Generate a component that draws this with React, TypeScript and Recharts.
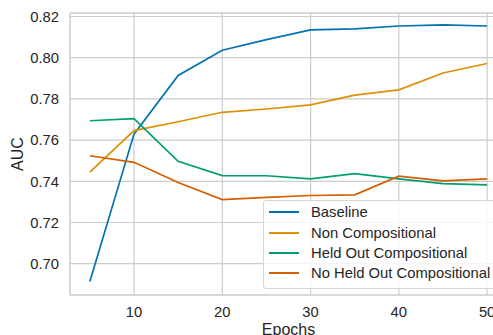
import React from "react";
import {
  LineChart,
  Line,
  XAxis,
  YAxis,
  CartesianGrid,
  Legend,
  ReferenceLine,
  Label,
} from "recharts";

const epochs = [5, 10, 15, 20, 25, 30, 35, 40, 45, 50];
const baseline = [0.6914, 0.7629, 0.7914, 0.8036, 0.8088, 0.8135, 0.814, 0.8154, 0.8159, 0.8154];
const nonCompositional = [0.7444, 0.7646, 0.7689, 0.7735, 0.7751, 0.7771, 0.7818, 0.7844, 0.7926, 0.7972];
const heldOutCompositional = [0.7694, 0.7704, 0.7497, 0.7428, 0.7427, 0.7412, 0.7437, 0.7412, 0.7389, 0.7383];
const noHeldOutCompositional = [0.7524, 0.7492, 0.7394, 0.7311, 0.7322, 0.7331, 0.7334, 0.7425, 0.7402, 0.7412];

const xTicks = [10, 20, 30, 40, 50];
const yTicks = [0.7, 0.72, 0.74, 0.76, 0.78, 0.8, 0.82];
const X_DOMAIN = [2.75, 52.25];
const Y_DOMAIN = [0.6848, 0.8217];

const SERIES = [
  { key: "baseline", name: "Baseline", color: "#0173b2", values: baseline },
  { key: "nonComp", name: "Non Compositional", color: "#de8f05", values: nonCompositional },
  { key: "heldOut", name: "Held Out Compositional", color: "#029e73", values: heldOutCompositional },
  { key: "noHeldOut", name: "No Held Out Compositional", color: "#d55e00", values: noHeldOutCompositional },
];

const data = epochs.map((e, i) => {
  const row: any = { epoch: e };
  SERIES.forEach((s) => {
    row[s.key] = s.values[i];
  });
  return row;
});

const FONT = "'Liberation Sans', Arial, sans-serif";
const TEXT = "#262626";
const GRID = "#cccccc";

const LegendBox = () => (
  <div
    style={{
      fontFamily: FONT,
      fontSize: 14.8,
      color: TEXT,
      background: "rgba(255,255,255,0.8)",
      border: "1px solid #d6d6d6",
      borderRadius: 3,
      padding: "1px 8px 4px 5px",
      whiteSpace: "nowrap",
    }}
  >
    {SERIES.map((s) => (
      <div key={s.key} style={{ display: "flex", alignItems: "center", height: 20.4 }}>
        <span style={{ display: "inline-block", width: 30, height: 2, background: s.color, marginRight: 12 }} />
        <span>{s.name}</span>
      </div>
    ))}
  </div>
);

export default function App() {
  return (
    <div
      style={{
        position: "absolute",
        left: 0,
        top: 0,
        width: 493,
        height: 335,
        overflow: "hidden",
        background: "#ffffff",
      }}
    >
      <LineChart width={512} height={335} data={data} margin={{ top: 13, right: 5, left: 0, bottom: 0 }}>
        <CartesianGrid stroke={GRID} strokeWidth={1.2} horizontalValues={yTicks} verticalValues={xTicks} />
        <XAxis
          dataKey="epoch"
          type="number"
          domain={X_DOMAIN}
          ticks={xTicks}
          allowDataOverflow
          height={40}
          stroke={GRID}
          tickLine={false}
          tickSize={8}
          tickMargin={3}
          tick={{ fill: TEXT, fontSize: 14.8, fontFamily: FONT }}
          axisLine={{ stroke: GRID, strokeWidth: 1.5 }}
        >
          <Label value="Epochs" position="insideBottom" offset={0} fill={TEXT} fontSize={16} fontFamily={FONT} />
        </XAxis>
        <YAxis
          type="number"
          domain={Y_DOMAIN}
          ticks={yTicks}
          allowDataOverflow
          width={70}
          tickLine={false}
          tickSize={8}
          tickMargin={3}
          tickFormatter={(v: number) => v.toFixed(2)}
          tick={{ fill: TEXT, fontSize: 14.8, fontFamily: FONT }}
          axisLine={{ stroke: GRID, strokeWidth: 1.5 }}
        >
          <Label
            content={(props: any) => {
              const vb = props.viewBox || {};
              const cx = (vb.x || 0) + 17;
              const cy = (vb.y || 0) + (vb.height || 0) / 2;
              return (
                <text
                  x={cx}
                  y={cy}
                  transform={`rotate(-90 ${cx} ${cy})`}
                  textAnchor="middle"
                  dominantBaseline="central"
                  fill={TEXT}
                  fontSize={16}
                  fontFamily={FONT}
                >
                  AUC
                </text>
              );
            }}
          />
        </YAxis>
        <ReferenceLine y={Y_DOMAIN[1]} stroke={GRID} strokeWidth={1.5} ifOverflow="extendDomain" />
        {SERIES.map((s) => (
          <Line
            key={s.key}
            type="linear"
            dataKey={s.key}
            name={s.name}
            stroke={s.color}
            strokeWidth={1.7}
            dot={false}
            activeDot={false}
            isAnimationActive={false}
          />
        ))}
        <Legend
          layout="vertical"
          align="center"
          verticalAlign="middle"
          wrapperStyle={{ left: 263, top: 200, width: "auto", height: "auto" }}
          content={() => <LegendBox />}
        />
      </LineChart>
    </div>
  );
}
